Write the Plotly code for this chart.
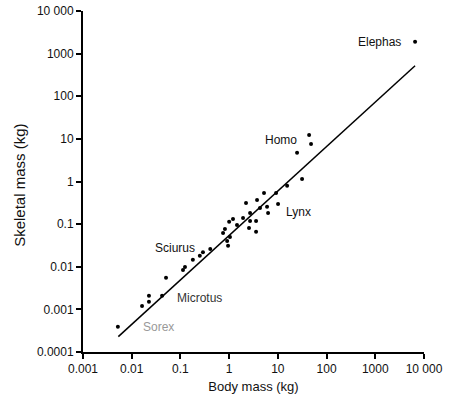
import math
import plotly.graph_objects as go

# Body mass (kg) and skeletal mass (kg) of species
body_mass = [6560, 43.8, 48, 24.8, 31.4, 15.5, 9.2, 5.2, 3.74, 2.22, 10.1, 6.0, 4.3,
             2.69, 6.3, 1.93, 1.2, 2.69, 3.57, 1.0, 1.45, 0.82, 2.56, 3.57, 0.75,
             1.04, 0.91, 0.95, 0.41, 0.29, 0.25, 0.18, 0.124, 0.113, 0.0506, 0.042,
             0.0226, 0.0226, 0.0163, 0.0052]
skeletal_mass = [1890, 12.4, 7.6, 4.7, 1.15, 0.79, 0.54, 0.54, 0.37, 0.315, 0.298, 0.254,
                 0.240, 0.183, 0.183, 0.140, 0.132, 0.119, 0.119, 0.113, 0.096, 0.077,
                 0.081, 0.066, 0.062, 0.050, 0.040, 0.031, 0.026, 0.022, 0.018, 0.0145,
                 0.0099, 0.0084, 0.0055, 0.0021, 0.0021, 0.0015, 0.0012, 0.00039]

# Regression line end points
fit_body = [0.00531, 6560]
fit_skeletal = [0.000229, 518]

x_ticks = [0.001, 0.01, 0.1, 1, 10, 100, 1000, 10000]
x_tick_text = ["0.001", "0.01", "0.1", "1", "10", "100", "1000", "10 000"]
y_ticks = [0.0001, 0.001, 0.01, 0.1, 1, 10, 100, 1000, 10000]
y_tick_text = ["0.0001", "0.001", "0.01", "0.1", "1", "10", "100", "1000", "10 000"]

# Species labels: (text, body mass, skeletal mass anchor, colour)
labels = [
    ("Elephas", 3720, 1890, "#111"),
    ("Homo", 11.6, 9.5, "#111"),
    ("Lynx", 26, 0.193, "#111"),
    ("Sciurus", 0.0775, 0.0276, "#111"),
    ("Microtus", 0.25, 0.00185, "#333"),
    ("Sorex", 0.0347, 0.00039, "#999"),
]

FONT = "Liberation Sans, Arial, sans-serif"

fig = go.Figure()
fig.add_trace(go.Scatter(x=fit_body, y=fit_skeletal, mode="lines",
                         line=dict(color="black", width=1.5), showlegend=False))
fig.add_trace(go.Scatter(x=body_mass, y=skeletal_mass, mode="markers",
                         marker=dict(color="black", size=4), showlegend=False))

for text, bx, by, col in labels:
    xanchor = "right" if text == "Elephas" else "center"
    fig.add_annotation(x=math.log10(bx), y=math.log10(by),
                       text=text, showarrow=False, xanchor=xanchor,
                       font=dict(family=FONT, size=12, color=col))

fig.add_annotation(xref="paper", yref="paper", x=-0.185, y=0.49, xanchor="center",
                   text="Skeletal mass (kg)", textangle=-90, showarrow=False,
                   font=dict(family=FONT, size=15, color="#111"))

fig.update_xaxes(type="log", range=[-3, 4], tickvals=x_ticks, ticktext=x_tick_text,
                 automargin=False,
                 showline=True, linecolor="black", linewidth=2, ticks="outside",
                 ticklen=5, tickwidth=2, tickcolor="black", showgrid=False, zeroline=False,
                 title=dict(text="Body mass (kg)", font=dict(family=FONT, size=13, color="#111"),
                            standoff=6),
                 tickfont=dict(family=FONT, size=12, color="#111"))
fig.update_yaxes(type="log", range=[-4, 4], tickvals=y_ticks, ticktext=y_tick_text,
                 automargin=False,
                 showline=True, linecolor="black", linewidth=2, ticks="outside",
                 ticklen=5, tickwidth=2, tickcolor="black", showgrid=False, zeroline=False,
                 tickfont=dict(family=FONT, size=12, color="#111"))

fig.update_layout(width=452, height=414, margin=dict(l=83, r=28, t=11, b=62),
                  plot_bgcolor="white", paper_bgcolor="white")

fig.write_html("out.html", config={"displayModeBar": False},
               post_script="document.body.style.margin='0';")
